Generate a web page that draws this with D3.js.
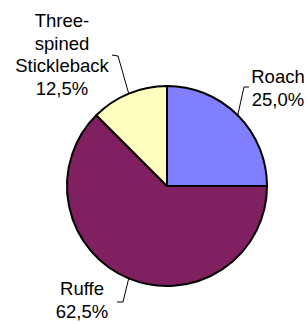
<!DOCTYPE html>
<html>
<head>
<meta charset="utf-8">
<script src="https://cdn.jsdelivr.net/npm/d3@7"></script>
<style>
  html, body { margin: 0; padding: 0; background: #fff; }
  text { font-family: "Liberation Sans", Arial, sans-serif; font-size: 18.5px; fill: #000; }
</style>
</head>
<body>
<div id="chart"></div>
<script>
'use strict';

// Data
const species = ['Roach', 'Ruffe', 'Three-spined Stickleback'];
const shares = [25.0, 62.5, 12.5];
const labelLines = [['Roach'], ['Ruffe'], ['Three-', 'spined', 'Stickleback']];
const sliceColors = ['#8080ff', '#802060', '#ffffc0'];

// Label layout: text anchor point, leader elbow, leader end
const labelLayout = [
    {x: 278, y: 83, elbow: [244, 87], end: [249, 87]},
    {x: 82, y: 295, elbow: [123, 302], end: [117, 302]},
    {x: 62, y: 27, elbow: [118, 56], end: [112, 55]}
];

const w = 307, h = 322;
const cx = 167, cy = 186, r = 100;
const lineH = 22.7;

const fmt = d3.formatLocale({decimal: ',', thousands: '.', grouping: [3], currency: ['', '']})
    .format('.1f');

const svg = d3.select('#chart')
    .append('svg')
    .attr('width', w)
    .attr('height', h);

const g = svg.append('g')
    .attr('transform', `translate(${cx},${cy})`);

const pie = d3.pie().sort(null).value(d => d)
    .startAngle(0).endAngle(2 * Math.PI);
const arcs = pie(shares);

const arc = d3.arc().innerRadius(0).outerRadius(r);
const edgeArc = d3.arc().innerRadius(r).outerRadius(r);

// Slices
g.selectAll('.slice')
    .data(arcs)
    .join('path')
    .attr('class', 'slice')
    .attr('d', arc)
    .attr('fill', (d, i) => sliceColors[i])
    .attr('stroke', '#000')
    .attr('stroke-width', 2)
    .attr('stroke-linejoin', 'round');

// Leader lines
svg.selectAll('.leader')
    .data(arcs)
    .join('polyline')
    .attr('class', 'leader')
    .attr('fill', 'none')
    .attr('stroke', '#000')
    .attr('stroke-width', 1)
    .attr('points', (d, i) => {
        const p = edgeArc.centroid(d);
        const L = labelLayout[i];
        return [[p[0] + cx, p[1] + cy], L.elbow, L.end].map(q => q.join(',')).join(' ');
    });

// Labels
svg.selectAll('.label')
    .data(arcs)
    .join('text')
    .attr('class', 'label')
    .attr('text-anchor', 'middle')
    .each(function (d, i) {
        const t = d3.select(this);
        const L = labelLayout[i];
        const lines = labelLines[i].concat([fmt(shares[i]) + '%']);
        lines.forEach((s, j) => {
            t.append('tspan')
                .attr('x', L.x)
                .attr('y', L.y + j * lineH)
                .text(s);
        });
    });
</script>
</body>
</html>
